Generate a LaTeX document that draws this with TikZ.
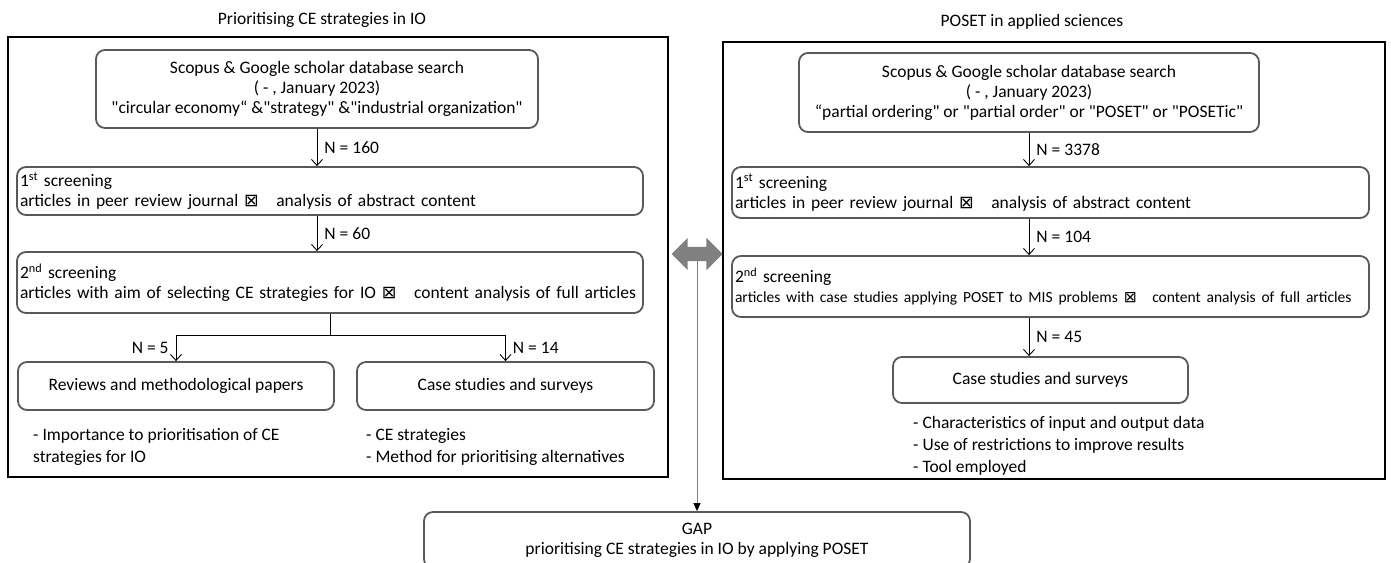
\documentclass[tikz,border=0pt]{standalone}
\usepackage{fontspec}
\setmainfont{Carlito}[Ligatures=TeXOff]
\newfontfamily\symfont{DejaVu Sans}
\usetikzlibrary{arrows.meta,shapes.arrows}
\definecolor{boxgray}{RGB}{89,89,89}
\definecolor{linkgray}{RGB}{128,128,128}
\newcommand{\tobox}{{\symfont ⊠}\quad}
\tikzset{
  frame/.style   = { draw, line width=1.2pt },
  stage/.style   = { draw=boxgray, line width=1.8pt, rounded corners=9pt, inner sep=3pt },
  flow/.style    = { -{Straight Barb[length=6pt,width=11pt]}, line width=0.9pt },
  tally/.style   = { inner sep=7pt },
  notes/.style   = { align=left, anchor=north west, inner sep=0pt, font=\fontsize{17.5}{22}\selectfont },
  link/.style    = { double arrow, fill=linkgray, inner sep=7pt, double arrow head extend=9pt, minimum height=51pt }
}

\begin{document}
\begin{tikzpicture}[x=1pt,y=-1pt,font=\fontsize{17.5}{20}\selectfont]
\useasboundingbox (0,0) rectangle (1391,562);

\node (ltitle) at (322,20) {Prioritising CE strategies in IO};
\draw[frame] (8,37) rectangle (668,477);
\node[stage, minimum width=442pt, minimum height=78pt, align=center] (lsearch) at (317,89)
  {Scopus \& Google scholar database search\\( - , January 2023)\\"circular economy“ \&"strategy" \&"industrial organization"};
\node[stage, text width=620pt, minimum height=48pt, align=left] (lfirst) at (330,191)
  {1\textsuperscript{st} screening\\articles in peer review journal \tobox analysis of abstract content};
\node[stage, text width=620pt, minimum height=61pt, align=left] (lsecond) at (330,282.5)
  {2\textsuperscript{nd} screening\\articles with aim of selecting CE strategies for IO \tobox content analysis of full articles};
\node[stage, minimum width=316pt, minimum height=48pt] (lreview) at (176,386) {Reviews and methodological papers};
\node[stage, minimum width=297pt, minimum height=48pt] (lcase) at (505.5,386) {Case studies and surveys};
\node[notes] (lnotes1) at (33,428) {- Importance to prioritisation of CE\\strategies for IO};
\node[notes] (lnotes2) at (366,428) {- CE strategies\\- Method for prioritising alternatives};

\draw[flow] (lsearch.south) -- node[tally,right] {N = 160} (lsearch.south |- lfirst.north);
\draw[flow] (lsearch.south |- lfirst.south) -- node[tally,right] {N = 60} (lsearch.south |- lsecond.north);
\draw[flow] (lsecond.south) |- ([yshift=26pt]lreview.north) -- node[tally,left] {N = 5} (lreview.north);
\draw[flow] (lsecond.south) |- ([yshift=26pt]lcase.north) -- node[tally,right] {N = 14} (lcase.north);

\node (rtitle) at (1032,22) {POSET in applied sciences};
\draw[frame] (723,42) rectangle (1385,479);
\node[stage, minimum width=460pt, minimum height=79pt, align=center] (rsearch) at (1029,92.5)
  {Scopus \& Google scholar database search\\( - , January 2023)\\“partial ordering" or "partial order" or "POSET" or "POSETic"};
\node[stage, text width=631pt, minimum height=51pt, align=left] (rfirst) at (1050.5,192.5)
  {1\textsuperscript{st} screening\\articles in peer review journal \tobox analysis of abstract content};
\node[stage, text width=631pt, minimum height=61pt, align=left] (rsecond) at (1050.5,286.5)
  {2\textsuperscript{nd} screening\\{\fontsize{15.5}{18}\selectfont articles with case studies applying POSET to MIS problems \tobox content analysis of full articles}};
\node[stage, minimum width=295pt, minimum height=46pt] (rcase) at (1040.5,380) {Case studies and surveys};
\node[notes] (rnotes) at (913,416) {- Characteristics of input and output data\\- Use of restrictions to improve results\\- Tool employed};

\draw[flow] (rsearch.south) -- node[tally,right] {N = 3378} (rsearch.south |- rfirst.north);
\draw[flow] (rsearch.south |- rfirst.south) -- node[tally,right] {N = 104} (rsearch.south |- rsecond.north);
\draw[flow] (rsearch.south |- rsecond.south) -- node[tally,right] {N = 45} (rsearch.south |- rcase.north);

\node[stage, minimum width=546pt, minimum height=56pt, align=center] (gap) at (697,540)
  {GAP\\prioritising CE strategies in IO by applying POSET};
\node[link] (bridge) at (697,254) {};
\draw[linkgray, line width=1pt, -{Triangle[color=black,length=8pt,width=7pt]}] (bridge.south) -- (gap.north);
\end{tikzpicture}
\end{document}
